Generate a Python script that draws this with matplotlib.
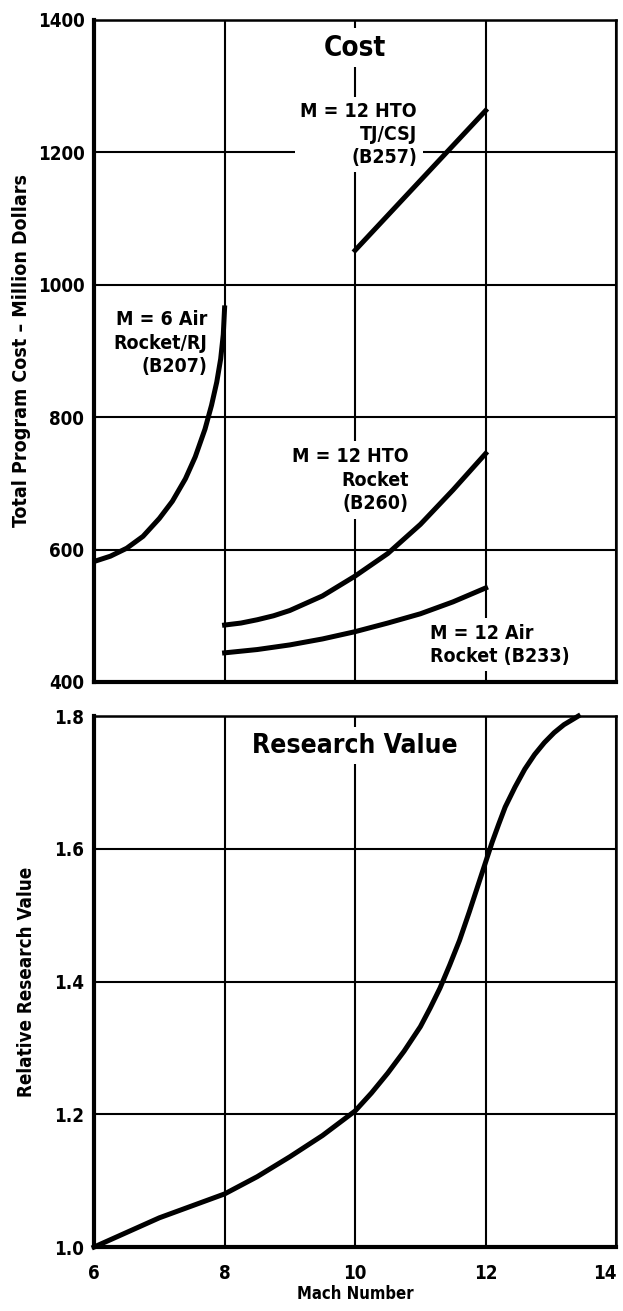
import matplotlib
matplotlib.use('Agg')
import matplotlib.pyplot as plt

plt.rcParams['font.family'] = ['DejaVu Sans']
plt.rcParams['font.stretch'] = 'condensed'
plt.rcParams['font.weight'] = 'bold'
plt.rcParams['axes.labelweight'] = 'bold'

# cost curves (Mach number vs total program cost, million dollars)
b207_mach = [6.0, 6.25, 6.5, 6.75, 7.0, 7.2, 7.4, 7.55, 7.7, 7.8, 7.88, 7.94, 7.98, 8.0]
b207_cost = [582, 590, 602, 620, 647, 673, 707, 740, 782, 818, 853, 888, 925, 965]

b260_mach = [8.0, 8.25, 8.5, 8.75, 9.0, 9.5, 10.0, 10.5, 11.0, 11.5, 12.0]
b260_cost = [486, 489, 494, 500, 508, 530, 560, 594, 638, 690, 745]

b233_mach = [8.0, 8.5, 9.0, 9.5, 10.0, 10.5, 11.0, 11.5, 12.0]
b233_cost = [444, 449, 456, 465, 476, 489, 503, 521, 542]

b257_mach = [10.0, 12.0]
b257_cost = [1052, 1263]

# research value curve
rv_mach = [6.0, 6.5, 7.0, 7.5, 8.0, 8.5, 9.0, 9.5, 10.0, 10.25, 10.5, 10.75,
           11.0, 11.15, 11.3, 11.45, 11.6, 11.75, 11.9, 12.0, 12.1, 12.2, 12.3,
           12.45, 12.6, 12.75, 12.9, 13.05, 13.2, 13.42]
rv_value = [1.0, 1.022, 1.044, 1.062, 1.08, 1.106, 1.136, 1.168, 1.205, 1.232,
            1.262, 1.295, 1.332, 1.36, 1.39, 1.425, 1.462, 1.505, 1.55, 1.58,
            1.61, 1.637, 1.663, 1.693, 1.72, 1.742, 1.76, 1.775, 1.787, 1.8]

mach_ticks = [6, 8, 10, 12, 14]
cost_ticks = [400, 600, 800, 1000, 1200, 1400]
rv_ticks = [1.0, 1.2, 1.4, 1.6, 1.8]
rv_labels = ['1.0', '1.2', '1.4', '1.6', '1.8']

fig = plt.figure(figsize=(6.23, 13.11), dpi=100)
ax1 = fig.add_axes([0.151, 0.4798, 0.838, 0.505])
ax2 = fig.add_axes([0.151, 0.0488, 0.838, 0.405])

for ax in (ax1, ax2):
    ax.set_xlim(6, 14)
    ax.set_xticks(mach_ticks)
    ax.grid(True, color='black', linewidth=1.5, zorder=1)
    ax.set_axisbelow(True)
    ax.tick_params(length=0, labelsize=13.5, pad=7)
    ax.spines['left'].set_linewidth(3.0)
    ax.spines['bottom'].set_linewidth(3.0)
    ax.spines['top'].set_linewidth(1.8)
    ax.spines['right'].set_linewidth(1.8)

lw = 3.6
ax1.set_ylim(400, 1400)
ax1.set_yticks(cost_ticks)
ax1.tick_params(axis='x', labelbottom=False)
ax1.plot(b207_mach, b207_cost, color='black', lw=lw, zorder=4)
ax1.plot(b260_mach, b260_cost, color='black', lw=lw, zorder=4)
ax1.plot(b233_mach, b233_cost, color='black', lw=lw, zorder=4)
ax1.plot(b257_mach, b257_cost, color='black', lw=lw, zorder=4)
ax1.set_ylabel('Total Program Cost \u2013 Million Dollars', fontsize=14, labelpad=5)

box = dict(facecolor='white', edgecolor='none', pad=4)
ax1.text(10.0, 1358, 'Cost', fontsize=20, ha='center', va='center', bbox=box, zorder=3)
ax1.text(10.95, 1227, 'M = 12 HTO\nTJ/CSJ\n(B257)', fontsize=14, ha='right', va='center',
         multialignment='right', linespacing=1.25, bbox=box, zorder=3)
ax1.text(7.73, 912, 'M = 6 Air\nRocket/RJ\n(B207)', fontsize=14, ha='right', va='center',
         multialignment='right', linespacing=1.3, zorder=3)
ax1.text(10.82, 705, 'M = 12 HTO\nRocket\n(B260)', fontsize=14, ha='right', va='center',
         multialignment='right', linespacing=1.3, bbox=box, zorder=3)
ax1.text(11.15, 456, 'M = 12 Air\nRocket (B233)', fontsize=14, ha='left', va='center',
         multialignment='left', linespacing=1.25, bbox=box, zorder=3)

ax2.set_ylim(1.0, 1.8)
ax2.set_yticks(rv_ticks)
ax2.set_yticklabels(rv_labels)
ax2.tick_params(axis='x', pad=12)
ax2.get_xticklabels()[-1].set_horizontalalignment('right')
ax2.plot(rv_mach, rv_value, color='black', lw=lw, zorder=4, clip_on=False)
ax2.set_ylabel('Relative Research Value', fontsize=13.5, labelpad=13)
ax2.set_xlabel('Mach Number', fontsize=12, labelpad=2)
ax2.text(10.0, 1.755, 'Research Value', fontsize=19, ha='center', va='center', bbox=box, zorder=3)

fig.savefig('out.png', dpi=100)
